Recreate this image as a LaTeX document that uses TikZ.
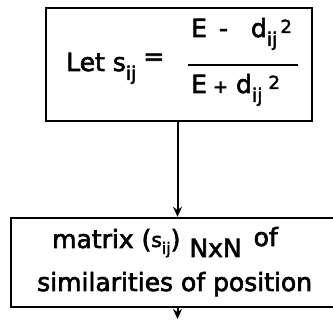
\documentclass[tikz,border=0pt]{standalone}
\usepackage{fontspec}
\setmainfont{DejaVu Sans}[FakeBold=2.5]
\usetikzlibrary{arrows.meta}
\newcommand\bigf{\fontsize{25}{30}\selectfont}
\newcommand\midf{\fontsize{20}{22}\selectfont}
\newcommand\smf{\fontsize{19}{20}\selectfont}
\newcommand\supf{\fontsize{18}{18}\selectfont}
\newcommand\sbs[1]{\raisebox{-9pt}{\smf #1}}
\newcommand\sps[1]{\raisebox{4pt}{\supf #1}}
\tikzset{
  boxline/.style={draw=black, line width=2.4pt},
  txt/.style={inner sep=0pt, anchor=base west, font=\bigf},
  conn/.style={line width=2pt, -{Stealth[length=10pt,width=9pt]}}
}
\begin{document}
\begin{tikzpicture}[x=1pt,y=1pt]
\useasboundingbox (0,0) rectangle (333,320);
% top box
\node[boxline, minimum width=266pt, minimum height=113pt, inner sep=0pt] (top) at (179,255.5) {};
\node[txt] (let) at (66,249) {Let s\sbs{ij}\hspace{7pt}\raisebox{6pt}{=}};
\node[txt] (num) at (191,283) {E\hspace{12pt}-\hspace{23pt}d\sbs{ij}\hspace{3pt}\sps{2}};
\node[txt] (den) at (191,227) {E\hspace{6pt}{\fontsize{18}{18}\selectfont +}\hspace{8pt}d\sbs{ij}\hspace{6pt}\sps{2}};
\coordinate (barl) at (188,255);
\coordinate (barr) at (298,255);
\draw[line width=2pt] (barl) -- (barr);
% bottom box
\node[boxline, minimum width=340pt, minimum height=89pt, inner sep=0pt] (bot) at (181,57.5) {};
\node[txt] (l1) at (52,72) {matrix (\raisebox{1pt}{\midf s}\raisebox{-6pt}{\fontsize{16}{18}\selectfont ij})\hspace{9pt}\raisebox{-9pt}{NxN}\hspace{12pt}\raisebox{2pt}{of}};
\node[txt] (l2) at (37,29) {similarities of position};
% connectors
\coordinate (end) at (177.5,1);
\draw[conn] (top.south -| 177.5,0) -- (bot.north -| 177.5,0);
\draw[conn] (bot.south -| 177.5,0) -- (end);
\end{tikzpicture}
\end{document}
